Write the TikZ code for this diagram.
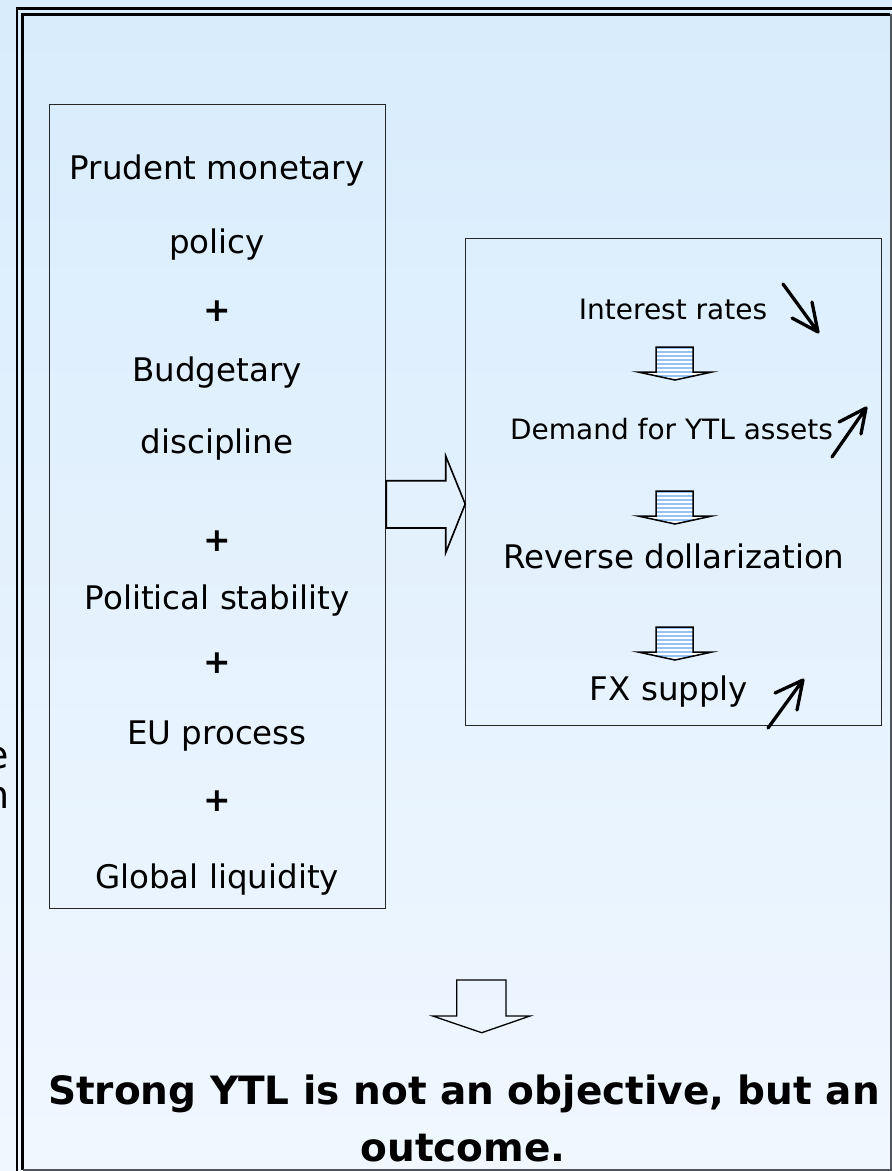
\documentclass[tikz,border=0pt]{standalone}
\usepackage{fontspec}
\setmainfont{DejaVu Sans}
\definecolor{bgtop}{RGB}{216,236,252}
\definecolor{bgbot}{RGB}{240,247,255}
\definecolor{arrowblue}{RGB}{150,195,245}
\definecolor{framegray}{RGB}{80,85,90}
\newcommand\stripearrow[1]{%
  \begin{scope}
    \clip (656,#1) -- (693,#1) -- (693,{#1+25}) -- (712,{#1+25}) -- (675,{#1+33}) -- (638,{#1+25}) -- (656,{#1+25}) -- cycle;
    \fill[arrowblue] (630,{#1-2}) rectangle (720,{#1+36});
    \foreach \k in {1,...,8} {\draw[white, line width=1.1pt] (630,{#1+\k*4-1}) -- (720,{#1+\k*4-1});}
  \end{scope}
  \draw[line width=1.5pt, line join=miter] (656,#1) -- (693,#1) -- (693,{#1+25}) -- (712,{#1+25}) -- (675,{#1+33}) -- (638,{#1+25}) -- (656,{#1+25}) -- cycle;
}
\begin{document}
\begin{tikzpicture}[x=1pt,y=-1pt,
  box/.style={draw=black!85, line width=1pt, inner sep=0pt},
  big/.style={font=\fontsize{32.5}{38}\selectfont, anchor=base, inner sep=0pt},
  small/.style={font=\fontsize{28}{33}\selectfont, anchor=base, inner sep=0pt},
  plus/.style={font=\fontsize{33}{38}\selectfont\bfseries, anchor=base, inner sep=0pt},
  concl/.style={font=\fontsize{39}{45}\selectfont\bfseries, anchor=base, inner sep=0pt},
  ghost/.style={font=\fontsize{38}{45}\selectfont, anchor=base east, inner sep=0pt},
  blockarrow/.style={draw=black, line width=1.6pt, line join=miter},
  trend/.style={line width=3.3pt, line cap=round, line join=round}]
\useasboundingbox (0,0) rectangle (892,1171);
\shade[top color=bgtop, bottom color=bgbot] (0,0) rectangle (892,1171);

% clipped text behind the frame
\begin{scope}
  \clip (0,0) rectangle (15.5,1171);
  \node[ghost] (ghoste) at (9,768) {e};
  \node[ghost] (ghostn) at (10,808) {n};
\end{scope}

% frame
\draw[line width=2.5pt] (17,1171) -- (17,8.5) -- (892,8.5);
\draw[line width=3pt] (22.5,1169.5) -- (22.5,14.5) -- (890,14.5);
\draw[framegray, line width=2pt] (891,14) -- (891,1170) -- (22.5,1170);

% boxes
\node[box, minimum width=336.4pt, minimum height=803.7pt] (leftbox) at (217.5,506.2) {};
\node[box, minimum width=415.8pt, minimum height=487pt] (rightbox) at (673.6,481.5) {};

% left column
\node[big] (t1) at (217,179) {Prudent monetary};
\node[big] (t2) at (217,253) {policy};
\node[plus] (p1) at (217,321) {+};
\node[big] (t3) at (217,381) {Budgetary};
\node[big] (t4) at (217,453) {discipline};
\node[plus] (p2) at (217,551) {+};
\node[big] (t5) at (217,609) {Political stability};
\node[plus] (p3) at (217,673) {+};
\node[big] (t6) at (217,744) {EU process};
\node[plus] (p4) at (217,811) {+};
\node[big] (t7) at (217,888) {Global liquidity};

% right column
\node[small] (r1) at (673,319) {Interest rates};
\node[small] (r2) at (671.5,439) {Demand for YTL assets};
\node[big] (r3) at (674,568) {Reverse dollarization};
\node[big] (r4) at (669,700) {FX supply};

\stripearrow{347}
\stripearrow{491}
\stripearrow{627}

% trend arrows
\coordinate (a1s) at (783,284); \coordinate (a1t) at (818,332);
\draw[trend] (a1s) -- (a1t) (792,318) -- (a1t) -- (812,302);
\coordinate (a2s) at (832,457); \coordinate (a2t) at (866,408);
\draw[trend] (a2s) -- (a2t) (839,422) -- (a2t) -- (861,434);
\coordinate (a3s) at (768,728); \coordinate (a3t) at (803,680);
\draw[trend] (a3s) -- (a3t) (775,693) -- (a3t) -- (797,710);

% block arrow right
\draw[blockarrow] (leftbox.east |- 0,480.7) -- (445.7,480.7) -- (445.7,456) -- (rightbox.west |- 0,504) -- (445.7,552.7) -- (445.7,528) -- (leftbox.east |- 0,528) -- cycle;

% block arrow down
\draw[blockarrow, line width=1.3pt] (456.7,980) -- (456.7,1016) -- (432.7,1016) -- (481.7,1032.7) -- (530,1016) -- (506,1016) -- (506,980) -- cycle;

% conclusion
\node[concl] (c1) at (464,1104) {Strong YTL is not an objective, but an};
\node[concl] (c2) at (463,1161) {outcome.};
\end{tikzpicture}
\end{document}
